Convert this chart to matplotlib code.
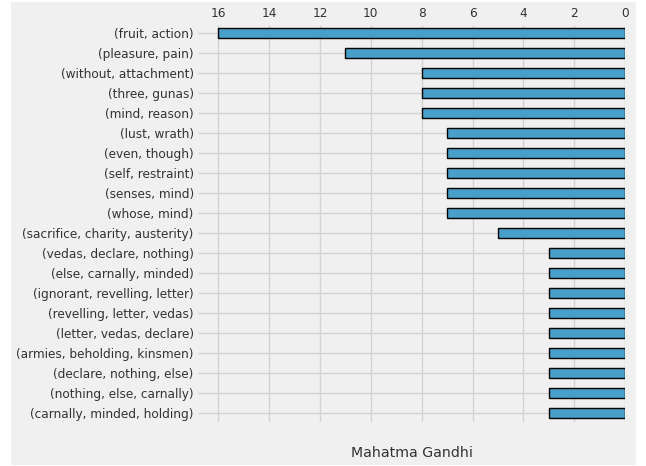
import matplotlib
matplotlib.use("Agg")
import matplotlib.pyplot as plt
from matplotlib.patches import Rectangle
import numpy as np

labels = ['(fruit, action)', '(pleasure, pain)', '(without, attachment)',
          '(three, gunas)', '(mind, reason)', '(lust, wrath)', '(even, though)',
          '(self, restraint)', '(senses, mind)', '(whose, mind)',
          '(sacrifice, charity, austerity)', '(vedas, declare, nothing)',
          '(else, carnally, minded)', '(ignorant, revelling, letter)',
          '(revelling, letter, vedas)', '(letter, vedas, declare)',
          '(armies, beholding, kinsmen)', '(declare, nothing, else)',
          '(nothing, else, carnally)', '(carnally, minded, holding)']
counts = [16, 11, 8, 8, 8, 7, 7, 7, 7, 7, 5, 3, 3, 3, 3, 3, 3, 3, 3, 3]

plt.style.use('fivethirtyeight')

fig = plt.figure(figsize=(6.46, 4.66), dpi=100, facecolor='white')
# grey canvas with white margin like the original screenshot
fig.patches.append(Rectangle((11/646, 1/466), 625/646, 463/466,
                             transform=fig.transFigure, facecolor='#f0f0f0',
                             edgecolor='none', zorder=-10))
ax = fig.add_axes([198/646, 1 - 422/466, 427/646, 397.5/466])
ax.set_facecolor('#f0f0f0')

pos = np.arange(len(labels))
ax.barh(pos, counts, height=0.5, color='#48a0c8', edgecolor='black', linewidth=1, zorder=3)
ax.set_yticks(pos)
ax.set_yticklabels(labels, fontsize=8.7, color='#333333')
ax.set_ylim(len(labels) - 0.55, -0.45)
ax.set_xlim(16.8, 0)
ax.set_xticks(range(0, 17, 2))
ax.xaxis.tick_top()
ax.tick_params(axis='x', labelsize=8.7, colors='#333333', length=0, pad=3)
ax.tick_params(axis='y', length=0, pad=3)
ax.grid(True, color='#d3d3d3', linewidth=1, zorder=0)
ax.set_xlabel('Mahatma Gandhi', fontsize=10.2, color='#333333', labelpad=0)
ax.xaxis.set_label_position('bottom')
ax.xaxis.set_label_coords(0.5, -0.06)
for s in ax.spines.values():
    s.set_visible(False)

fig.savefig('out.png', dpi=100, facecolor='white')
